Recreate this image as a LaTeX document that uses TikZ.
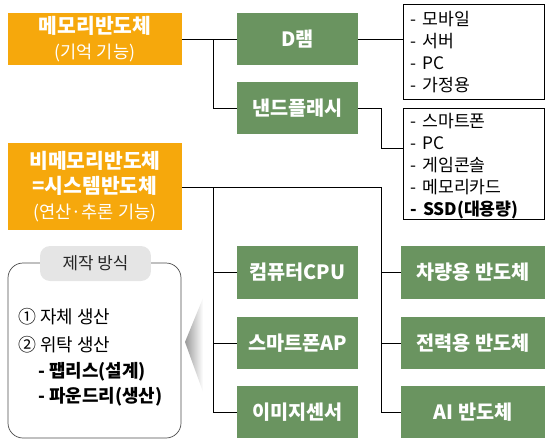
\documentclass[tikz,border=0pt]{standalone}
\usepackage{fontspec}
\setmainfont{Noto Sans CJK KR}
\usepackage{xcolor}
\usetikzlibrary{calc}
\definecolor{semiorange}{HTML}{F6A80C}
\definecolor{semigreen}{HTML}{6A9460}
\tikzset{
  typebox/.style={fill=semiorange, text=white, align=center, font=\fontsize{11.6}{14.2}\selectfont\bfseries,
                  minimum width=3.48cm, inner sep=0pt},
  chipbox/.style={fill=semigreen, text=white, align=center, font=\fontsize{11.2}{13}\selectfont\bfseries,
                  minimum height=1.05cm, inner sep=0pt},
  listbox/.style={draw, thick, align=left, font=\fontsize{9.8}{12.4}\selectfont, anchor=north west,
                  inner sep=0pt, text width=2.82cm},
  waybox/.style={draw=black!70, rounded corners=0.3cm},
  waytab/.style={fill=black!10, rounded corners=0.2cm, font=\fontsize{9.6}{11}\selectfont, text=black!85,
                 minimum width=2.22cm, minimum height=0.7cm, inner sep=0pt},
  wayitem/.style={anchor=west, font=\fontsize{10.2}{12}\selectfont, inner sep=0pt},
}
\begin{document}
\begin{tikzpicture}[x=0.02cm, y=-0.02cm]
    \useasboundingbox (0,0) rectangle (550,443);
    % memory / non-memory
    \node[typebox, minimum height=1.04cm] (mem) at (95,39) {메모리반도체\\{\mdseries\fontsize{10}{12}\selectfont(기억 기능)}};
    \node[typebox, minimum height=1.74cm] (nonmem) at (95,186.5) {비메모리반도체\\=시스템반도체\\{\mdseries\fontsize{10}{12}\selectfont(연산·추론 기능)}};
    % memory chips
    \node[chipbox, minimum width=2.42cm] (dram) at (297.5,39) {D램};
    \node[chipbox, minimum width=2.42cm] (nand) at (297.5,108) {낸드플래시};
    \node[listbox, minimum height=1.9cm] (use1) at (403,4) {\hspace*{0.14cm}- 모바일\\\hspace*{0.14cm}- 서버\\\hspace*{0.14cm}- PC\\\hspace*{0.14cm}- 가정용};
    \node[listbox, minimum height=2.22cm] (use2) at (403,108) {\\[-2pt]\hspace*{0.14cm}- 스마트폰\\\hspace*{0.14cm}- PC\\\hspace*{0.14cm}- 게임콘솔\\\hspace*{0.14cm}- 메모리카드\\\hspace*{0.14cm}\textbf{- SSD(대용량)}};
    % system chips
    \node[chipbox, minimum width=2.42cm] (cpu) at (297.5,272.5) {컴퓨터CPU};
    \node[chipbox, minimum width=2.42cm] (ap) at (297.5,343) {스마트폰AP};
    \node[chipbox, minimum width=2.42cm] (img) at (297.5,412) {이미지센서};
    \node[chipbox, minimum width=2.88cm] (car) at (473,272.5) {차량용 반도체};
    \node[chipbox, minimum width=2.88cm] (power) at (473,343) {전력용 반도체};
    \node[chipbox, minimum width=2.88cm] (ai) at (473,412) {AI 반도체};
    % connectors
    \coordinate (j1) at (213,39);
    \coordinate (j2) at (381,148);
    \coordinate (j3) at (213,187);
    \coordinate (j4) at (381,412);
    \draw (mem.east) -- (dram.west);
    \draw (j1) |- (nand.west);
    \draw (dram.east) -- (dram.east -| use1.west);
    \draw (nand.east) -| (j2) -- (j2 -| use2.west);
    \draw (nonmem.east |- j3) -| (j4) -- (ai.west);
    \draw (j3) |- (img.west);
    \draw (cpu.west -| j3) -- (cpu.west);
    \draw (ap.west -| j3) -- (ap.west);
    \draw (car.west -| j4) -- (car.west);
    \draw (power.west -| j4) -- (power.west);
    % production methods
    \draw[waybox] (8,263) rectangle (181,438);
    \shade[left color=black!40, right color=white] (185,342) -- (203,298) -- (203,392) -- cycle;
    \node[waytab] (tab) at (95.5,263.5) {제작 방식};
    \node[wayitem] (own) at (18,317) {① 자체 생산};
    \node[wayitem] (out) at (18,345) {② 위탁 생산};
    \node[wayitem, font=\fontsize{10.2}{12}\selectfont\bfseries] (fab) at (38,372) {- 팹리스(설계)};
    \node[wayitem, font=\fontsize{10.2}{12}\selectfont\bfseries] (fdy) at (38,397) {- 파운드리(생산)};
\end{tikzpicture}
\end{document}
